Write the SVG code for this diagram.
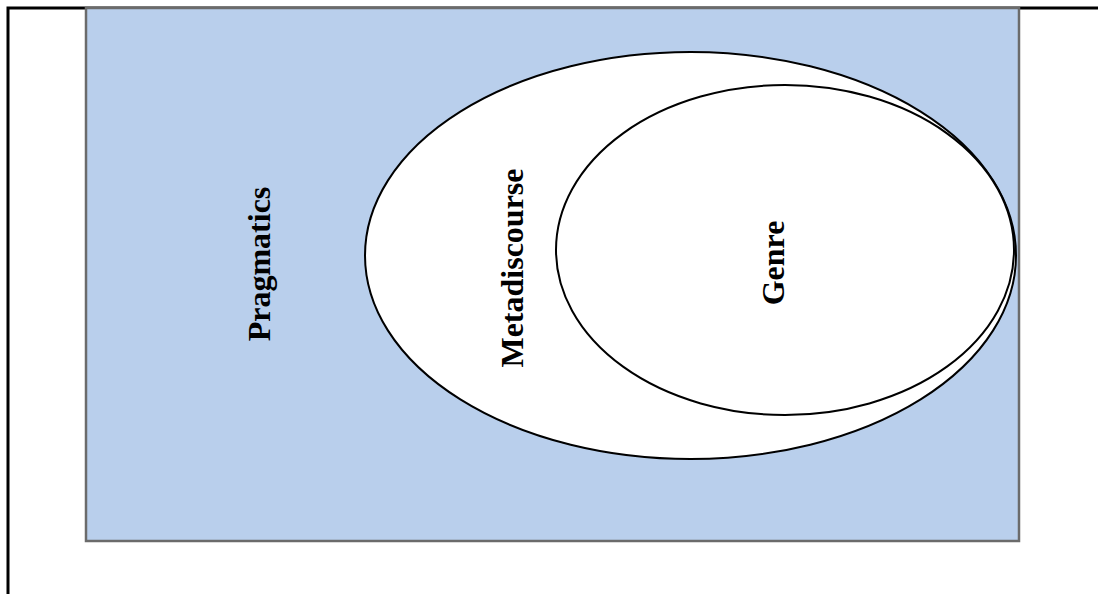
<svg xmlns="http://www.w3.org/2000/svg" width="1098" height="594" viewBox="0 0 1098 594">
<style>
.lbl{font-family:"Liberation Serif","Times New Roman",serif;font-weight:bold;font-size:32px;fill:#000;text-anchor:middle}
.ell{fill:#fff;stroke:#000;stroke-width:2}
</style>
<rect width="1098" height="594" fill="#fff"/>
<g id="frame">
<path d="M8,594 V8 H1098" fill="none" stroke="#000" stroke-width="3"/>
</g>
<g id="pragmatics">
<rect x="86" y="8" width="933" height="533" fill="#b9cfec" stroke="#6b6b6b" stroke-width="2.5"/>
<text class="lbl" transform="translate(270,264) rotate(-90)">Pragmatics</text>
</g>
<g id="metadiscourse">
<ellipse class="ell" cx="690.5" cy="255.5" rx="325.5" ry="203.5"/>
<text class="lbl" transform="translate(523,268) rotate(-90)">Metadiscourse</text>
</g>
<g id="genre">
<ellipse class="ell" cx="785" cy="250" rx="229" ry="165"/>
<text class="lbl" transform="translate(784,263) rotate(-90)">Genre</text>
</g>
<g id="connectors"/>
</svg>
